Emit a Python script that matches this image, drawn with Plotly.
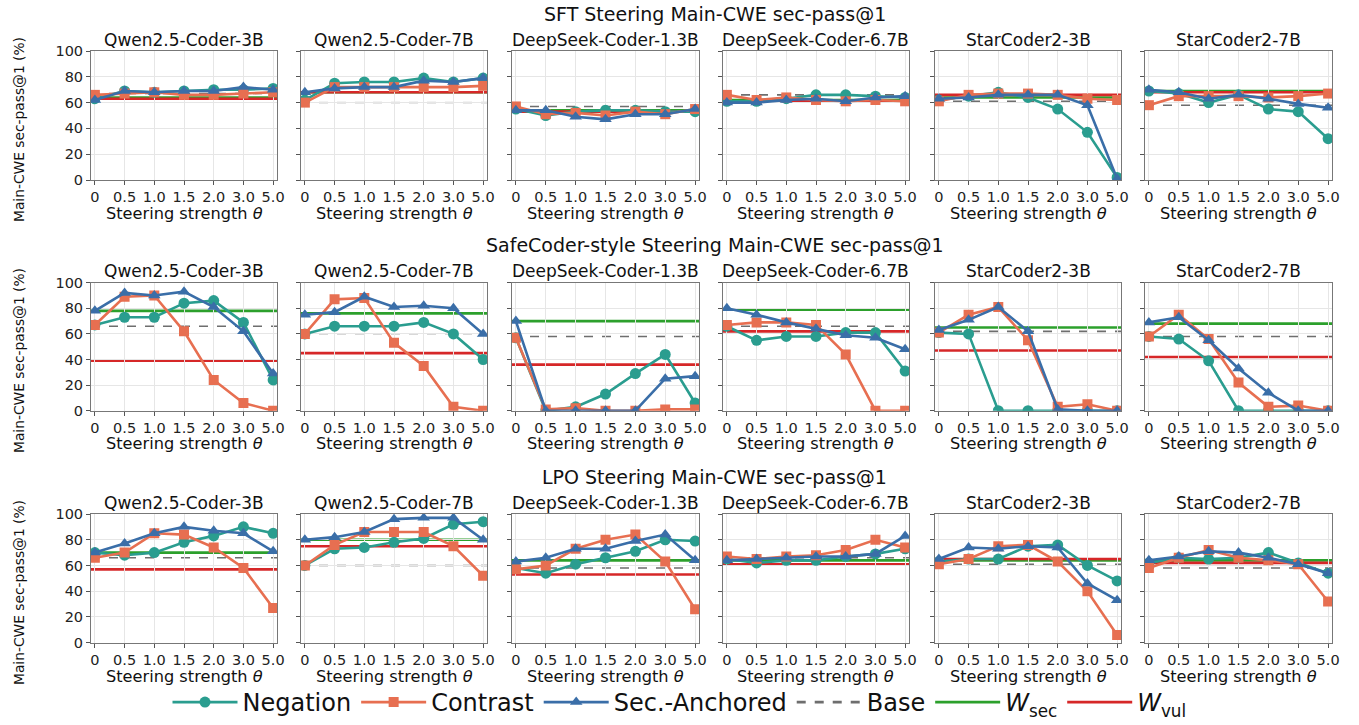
import plotly.graph_objects as go

W, H = 1359, 725

theta_labels = ["0", "0.5", "1.0", "1.5", "2.0", "3.0", "5.0"]
models = ["Qwen2.5-Coder-3B", "Qwen2.5-Coder-7B", "DeepSeek-Coder-1.3B",
          "DeepSeek-Coder-6.7B", "StarCoder2-3B", "StarCoder2-7B"]
row_titles = ["SFT Steering Main-CWE sec-pass@1",
              "SafeCoder-style Steering Main-CWE sec-pass@1",
              "LPO Steering Main-CWE sec-pass@1"]

# ---- SFT steering ----
sft_negation = [
    [63, 69, 68, 69, 70, 70, 71],
    [62, 75, 76, 76, 79, 76, 79],
    [55, 50, 53, 54, 54, 53, 53],
    [61, 61, 63, 66, 66, 65, 64],
    [62, 65, 68, 64, 55, 37, 2],
    [69, 67, 60, 66, 55, 53, 32],
]
sft_contrast = [
    [66, 67, 68, 66, 66, 67, 68],
    [60, 72, 72, 72, 72, 72, 73],
    [57, 51, 52, 50, 53, 51, 55],
    [66, 62, 64, 62, 61, 62, 61],
    [61, 66, 67, 67, 66, 63, 62],
    [58, 65, 65, 65, 64, 65, 67],
]
sft_secanch = [
    [62, 69, 68, 69, 69, 72, 70],
    [68, 71, 72, 72, 77, 76, 79],
    [54, 54, 49, 47, 51, 51, 55],
    [60, 60, 62, 63, 61, 64, 65],
    [63, 64, 66, 66, 66, 58, 1],
    [70, 68, 63, 66, 63, 59, 56],
]
sft_base = [67, 60, 57, 66, 61, 58]
sft_wsec = [64, 68, 54, 62, 64, 69]
sft_wvul = [63, 68, 53, 61, 66, 68]

# ---- SafeCoder-style steering ----
safe_negation = [
    [67, 73, 73, 84, 86, 69, 24],
    [60, 66, 66, 66, 69, 60, 40],
    [57, 0, 3, 13, 29, 44, 6],
    [66, 55, 58, 58, 61, 61, 31],
    [61, 60, 0, 0, 0, 0, 0],
    [58, 56, 39, 0, 0, 0, 0],
]
safe_contrast = [
    [67, 89, 90, 62, 24, 6, 0],
    [60, 87, 88, 53, 35, 3, 0],
    [57, 1, 2, 0, 0, 1, 1],
    [67, 69, 69, 67, 44, 0, 0],
    [61, 75, 81, 55, 3, 5, 0],
    [58, 75, 56, 22, 3, 4, 0],
]
safe_secanch = [
    [78, 92, 90, 93, 81, 62, 29],
    [75, 77, 89, 81, 82, 80, 60],
    [70, 0, 0, 0, 0, 25, 27],
    [80, 75, 69, 64, 59, 57, 48],
    [63, 71, 81, 62, 1, 0, 0],
    [69, 73, 55, 33, 14, 0, 0],
]
safe_base = [66, 60, 58, 66, 62, 58]
safe_wsec = [78, 76, 70, 79, 65, 68]
safe_wvul = [39, 45, 36, 62, 47, 42]

# ---- LPO steering ----
lpo_negation = [
    [70, 68, 70, 78, 83, 90, 85],
    [60, 73, 74, 78, 81, 92, 94],
    [58, 54, 61, 66, 71, 80, 79],
    [65, 62, 64, 64, 67, 69, 73],
    [63, 65, 65, 75, 76, 60, 48],
    [62, 66, 65, 66, 70, 62, 54],
]
lpo_contrast = [
    [66, 70, 85, 84, 74, 58, 27],
    [60, 76, 86, 86, 86, 75, 52],
    [57, 60, 73, 80, 84, 63, 26],
    [67, 65, 67, 68, 72, 80, 74],
    [61, 65, 75, 76, 63, 40, 6],
    [58, 66, 72, 66, 64, 61, 32],
]
lpo_secanch = [
    [70, 77, 85, 90, 87, 85, 71],
    [80, 82, 86, 96, 97, 97, 80],
    [63, 66, 73, 73, 79, 84, 64],
    [64, 65, 66, 67, 67, 69, 83],
    [65, 74, 73, 75, 74, 46, 33],
    [64, 67, 71, 70, 66, 61, 54],
]
lpo_base = [66, 60, 58, 66, 61, 58]
lpo_wsec = [70, 80, 64, 64, 64, 64]
lpo_wvul = [57, 75, 53, 61, 65, 62]

rows = [
    (sft_negation, sft_contrast, sft_secanch, sft_base, sft_wsec, sft_wvul),
    (safe_negation, safe_contrast, safe_secanch, safe_base, safe_wsec, safe_wvul),
    (lpo_negation, lpo_contrast, lpo_secanch, lpo_base, lpo_wsec, lpo_wvul),
]

C_NEG = "#2a9d8f"
C_CON = "#e76f51"
C_SEC = "#3a6ea8"
C_BASE = "#6e6e6e"
C_WSEC = "#2ca02c"
C_WVUL = "#d62728"
FONT = "DejaVu Sans"

col_px = [(91, 277), (301, 487), (512, 699), (723, 909), (935, 1121), (1145, 1332)]
row_px = [(51, 180), (282.7, 410.7), (514, 642.7)]
row_title_y = [14, 245, 477]
panel_title_y = [40, 271, 503]
xlabel_y = [213, 444, 676]
ylabel_y = [130, 361, 593]

def fx(px):
    return px / W

def fy(py):
    return 1 - py / H

xs = list(range(len(theta_labels)))

fig = go.Figure()
annotations = []
shapes = []

for r in range(3):
    neg, con, sec, base, wsec, wvul = rows[r]
    for c in range(6):
        idx = r * 6 + c + 1
        xa = "x" if idx == 1 else f"x{idx}"
        ya = "y" if idx == 1 else f"y{idx}"
        xkey = "xaxis" if idx == 1 else f"xaxis{idx}"
        ykey = "yaxis" if idx == 1 else f"yaxis{idx}"
        x0, x1 = col_px[c]
        y0, y1 = row_px[r]
        fig.layout[xkey] = dict(
            domain=[fx(x0), fx(x1)], anchor=ya, range=[-0.13, 6.13],
            tickvals=xs, ticktext=theta_labels, ticks="outside", ticklen=4,
            tickcolor="#555", showline=True, linecolor="#777", linewidth=1,
            mirror=True, showgrid=True, gridcolor="#e6e6e6", gridwidth=1,
            zeroline=False, tickfont=dict(family=FONT, size=14.5, color="#222"),
        )
        fig.layout[ykey] = dict(
            domain=[fy(y1), fy(y0)], anchor=xa, range=[0, 100],
            tickvals=[0, 20, 40, 60, 80, 100], ticks="outside", ticklen=4,
            tickcolor="#555", showline=True, linecolor="#777", linewidth=1,
            mirror=True, showgrid=True, gridcolor="#e6e6e6", gridwidth=1,
            zeroline=False, showticklabels=(c == 0),
            tickfont=dict(family=FONT, size=14.5, color="#222"),
        )
        base_color = "#cccccc" if (c == 1 and r < 2) else C_BASE
        for val, color, dash, width in [(base[c], base_color, "dash", 1.6),
                                        (wsec[c], C_WSEC, "solid", 2.6),
                                        (wvul[c], C_WVUL, "solid", 2.6)]:
            shapes.append(dict(type="line", xref=f"{xa} domain", yref=ya,
                               x0=0, x1=1, y0=val, y1=val, layer="below",
                               line=dict(color=color, dash=dash, width=width)))
        first = (r == 0 and c == 0)
        for data, name, color, sym, size in [
            (neg[c], "Negation", C_NEG, "circle", 11),
            (con[c], "Contrast", C_CON, "square", 10),
            (sec[c], "Sec.-Anchored", C_SEC, "triangle-up", 11),
        ]:
            fig.add_trace(go.Scatter(
                x=xs, y=data, xaxis=xa, yaxis=ya, mode="lines+markers",
                name=name, showlegend=first, legendgroup=name,
                line=dict(color=color, width=2.6),
                marker=dict(color=color, symbol=sym, size=size),
            ))
        annotations.append(dict(
            text=models[c], x=fx((x0 + x1) / 2), y=fy(panel_title_y[r]),
            xref="paper", yref="paper", showarrow=False,
            font=dict(family=FONT, size=17, color="#111"),
            xanchor="center", yanchor="middle"))
        annotations.append(dict(
            text="Steering strength <i>θ</i>", x=fx((x0 + x1) / 2), y=fy(xlabel_y[r]),
            xref="paper", yref="paper", showarrow=False,
            font=dict(family=FONT, size=16.2, color="#111"),
            xanchor="center", yanchor="middle"))
    annotations.append(dict(
        text=row_titles[r], x=fx(715), y=fy(row_title_y[r]),
        xref="paper", yref="paper", showarrow=False,
        font=dict(family=FONT, size=19, color="#111"),
        xanchor="center", yanchor="middle"))
    annotations.append(dict(
        text="Main-CWE sec-pass@1 (%)", x=fx(19), y=fy(ylabel_y[r]),
        xref="paper", yref="paper", showarrow=False, textangle=-90,
        font=dict(family=FONT, size=13.8, color="#111"),
        xanchor="center", yanchor="middle"))

for name, color, dash in [("Base", C_BASE, "dash"),
                          ("<i>W</i><sub>sec</sub>", C_WSEC, "solid"),
                          ("<i>W</i><sub>vul</sub>", C_WVUL, "solid")]:
    fig.add_trace(go.Scatter(x=[None], y=[None], mode="lines", name=name,
                             line=dict(color=color, dash=dash, width=2.6),
                             showlegend=True))

fig.update_layout(
    width=W, height=H, margin=dict(l=0, r=0, t=0, b=0, autoexpand=False),
    paper_bgcolor="white", plot_bgcolor="white",
    font=dict(family=FONT, color="#111"),
    annotations=annotations, shapes=shapes,
    legend=dict(orientation="h", x=0.5, xanchor="center", y=0.0, yanchor="bottom",
                font=dict(family=FONT, size=24), itemwidth=65,
                bgcolor="rgba(0,0,0,0)"),
)

fig.write_html("out.html", config={"displayModeBar": False},
               post_script="document.body.style.margin='0px';")
